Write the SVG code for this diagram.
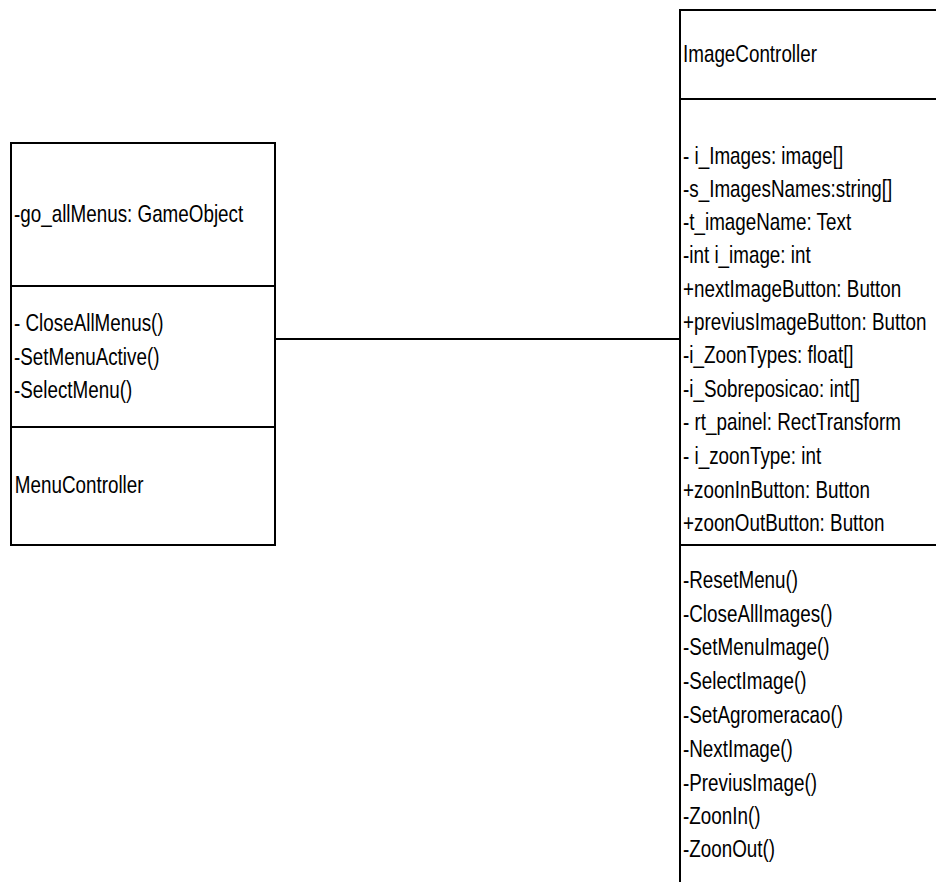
<svg xmlns="http://www.w3.org/2000/svg" width="936" height="882" viewBox="0 0 936 882">
<style>
.box{fill:#fff;stroke:#000;stroke-width:2}
.div{stroke:#000;stroke-width:2}
text{font-family:"Liberation Sans",Arial,sans-serif;font-size:24px;fill:#000}
</style>
<rect width="936" height="882" fill="#fff"/>
<g id="connectors">
<line x1="275" y1="339" x2="680" y2="339" stroke="#000" stroke-width="2"/>
</g>
<g id="MenuController">
<rect class="box" x="11" y="143" width="264" height="402"/>
<line class="div" x1="11" y1="286" x2="275" y2="286"/>
<line class="div" x1="11" y1="427" x2="275" y2="427"/>
<g transform="translate(14,0) scale(0.785,1)">
<text x="0" y="222">-go_allMenus: GameObject</text>
<text x="0" y="331">- CloseAllMenus()</text>
<text x="0" y="365">-SetMenuActive()</text>
<text x="0" y="398">-SelectMenu()</text>
<text x="1" y="493">MenuController</text>
</g>
</g>
<g id="ImageController">
<rect class="box" x="680" y="10" width="262" height="880"/>
<line class="div" x1="680" y1="99" x2="940" y2="99"/>
<line class="div" x1="680" y1="545" x2="940" y2="545"/>
<g transform="translate(683,0) scale(0.785,1)">
<text x="0" y="62">ImageController</text>
<text x="0" y="164">- i_Images: image[]</text>
<text x="0" y="197">-s_ImagesNames:string[]</text>
<text x="0" y="230">-t_imageName: Text</text>
<text x="0" y="263">-int i_image: int</text>
<text x="0" y="297">+nextImageButton: Button</text>
<text x="0" y="330">+previusImageButton: Button</text>
<text x="0" y="363">-i_ZoonTypes: float[]</text>
<text x="0" y="397">-i_Sobreposicao: int[]</text>
<text x="0" y="430">- rt_painel: RectTransform</text>
<text x="0" y="464">- i_zoonType: int</text>
<text x="0" y="498">+zoonInButton: Button</text>
<text x="0" y="531">+zoonOutButton: Button</text>
<text x="0" y="588">-ResetMenu()</text>
<text x="0" y="622">-CloseAllImages()</text>
<text x="0" y="655">-SetMenuImage()</text>
<text x="0" y="689">-SelectImage()</text>
<text x="0" y="723">-SetAgromeracao()</text>
<text x="0" y="757">-NextImage()</text>
<text x="0" y="791">-PreviusImage()</text>
<text x="0" y="824">-ZoonIn()</text>
<text x="0" y="857">-ZoonOut()</text>
</g>
</g>
</svg>
